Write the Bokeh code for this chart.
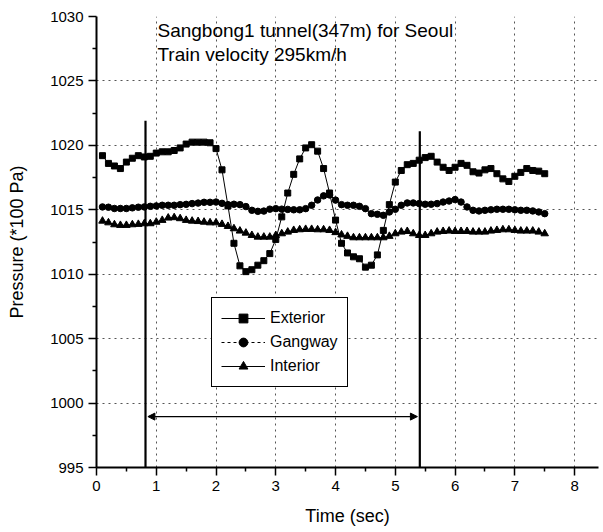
from bokeh.plotting import figure
from bokeh.models import (Range1d, FixedTicker, Legend, LegendItem, ColumnDataSource,
                          Arrow, NormalHead, Grid)
from bokeh.core.properties import value
from bokeh.embed import file_html
from bokeh.resources import INLINE

# ---------------- data ----------------
time_s = [0.1, 0.2, 0.3, 0.4, 0.5, 0.6, 0.7, 0.8, 0.9, 1.0,
          1.1, 1.2, 1.3, 1.4, 1.5, 1.6, 1.7, 1.8, 1.9, 2.0,
          2.1, 2.2, 2.3, 2.4, 2.5, 2.6, 2.7, 2.8, 2.9, 3.0,
          3.1, 3.2, 3.3, 3.4, 3.5, 3.6, 3.7, 3.8, 3.9, 4.0,
          4.1, 4.2, 4.3, 4.4, 4.5, 4.6, 4.7, 4.8, 4.9, 5.0,
          5.1, 5.2, 5.3, 5.4, 5.5, 5.6, 5.7, 5.8, 5.9, 6.0,
          6.1, 6.2, 6.3, 6.4, 6.5, 6.6, 6.7, 6.8, 6.9, 7.0,
          7.1, 7.2, 7.3, 7.4, 7.5]

exterior = [1019.2, 1018.6, 1018.4, 1018.2, 1018.7, 1019.0, 1019.2, 1019.1, 1019.15, 1019.4,
            1019.5, 1019.5, 1019.6, 1019.8, 1020.1, 1020.25, 1020.25, 1020.25, 1020.2, 1019.75,
            1018.1, 1015.3, 1012.4, 1010.65, 1010.2, 1010.35, 1010.7, 1011.05, 1011.6, 1012.7,
            1014.45, 1016.3, 1017.75, 1018.95, 1019.8, 1020.05, 1019.55, 1018.2, 1016.3, 1014.2,
            1012.4, 1011.65, 1011.35, 1011.2, 1010.55, 1010.7, 1011.5, 1013.4, 1015.4, 1017.15,
            1018.05, 1018.5, 1018.6, 1018.85, 1019.05, 1019.15, 1018.7, 1018.3, 1018.05, 1018.3,
            1018.6, 1018.45, 1017.95, 1017.85, 1018.1, 1018.2, 1017.8, 1017.4, 1017.2, 1017.6,
            1017.9, 1018.2, 1018.05, 1018.0, 1017.8]

gangway = [1015.22, 1015.2, 1015.1, 1015.1, 1015.1, 1015.15, 1015.2, 1015.22, 1015.27, 1015.3,
           1015.35, 1015.35, 1015.35, 1015.4, 1015.42, 1015.48, 1015.52, 1015.58, 1015.58, 1015.6,
           1015.5, 1015.4, 1015.43, 1015.4, 1015.25, 1014.96, 1014.88, 1014.9, 1015.05, 1015.09,
           1015.05, 1015.03, 1015.0, 1015.0, 1015.09, 1015.35, 1015.76, 1016.08, 1016.15, 1015.75,
           1015.4, 1015.35, 1015.35, 1015.27, 1015.09, 1014.7, 1014.65, 1014.57, 1014.83, 1015.04,
           1015.35, 1015.53, 1015.53, 1015.48, 1015.43, 1015.43, 1015.48, 1015.6, 1015.68, 1015.79,
           1015.6, 1015.22, 1014.96, 1014.91, 1014.96, 1015.0, 1015.04, 1015.04, 1015.04, 1015.0,
           1014.96, 1014.96, 1014.91, 1014.83, 1014.7]

interior = [1014.13, 1014.0, 1013.85, 1013.8, 1013.8, 1013.85, 1013.88, 1013.93, 1013.93, 1014.05,
            1014.19, 1014.37, 1014.4, 1014.32, 1014.19, 1014.13, 1014.1, 1014.05, 1014.0, 1014.0,
            1013.88, 1013.72, 1013.54, 1013.36, 1013.2, 1013.02, 1012.89, 1012.89, 1012.89, 1013.02,
            1013.15, 1013.28, 1013.41, 1013.46, 1013.49, 1013.49, 1013.46, 1013.46, 1013.41, 1013.24,
            1013.06, 1012.95, 1012.84, 1012.84, 1012.84, 1012.84, 1012.84, 1012.84, 1012.95, 1013.15,
            1013.28, 1013.33, 1013.15, 1013.02, 1013.02, 1013.15, 1013.28, 1013.33, 1013.36, 1013.33,
            1013.33, 1013.33, 1013.28, 1013.28, 1013.28, 1013.36, 1013.41, 1013.46, 1013.46, 1013.41,
            1013.36, 1013.36, 1013.36, 1013.28, 1013.15]

series_names = ["Exterior", "Gangway", "Interior"]
x_ticks = [0, 1, 2, 3, 4, 5, 6, 7, 8]
y_ticks = [995, 1000, 1005, 1010, 1015, 1020, 1025, 1030]

# tunnel entry / exit markers and the span arrow
marker_times = [0.82, 5.41]
marker_tops = [1021.9, 1021.1]
span_arrow = [0.86, 5.37, 998.95]

notes = ["Sangbong1 tunnel(347m) for Seoul", "Train velocity 295km/h"]
notes_x = [1.02, 1.02]
notes_y = [1029.75, 1027.85]

FONT = "Liberation Sans"

# ---------------- figure ----------------
p = figure(width=603, height=532, output_backend="svg", toolbar_location=None,
           x_range=Range1d(0, 8.4), y_range=Range1d(995, 1030))
p.min_border_left = 96
p.min_border_right = 5
p.min_border_top = 16
p.min_border_bottom = 65
p.outline_line_color = None
p.background_fill_color = "white"
p.border_fill_color = "white"

# remove default grids, add explicit dotted grids
p.xgrid.visible = False
p.ygrid.visible = False
xg = Grid(dimension=0, ticker=FixedTicker(ticks=x_ticks[1:]), level="underlay",
          grid_line_color="#555555", grid_line_dash="dotted", grid_line_width=1)
yg = Grid(dimension=1, ticker=FixedTicker(ticks=y_ticks[1:-1]), level="underlay",
          grid_line_color="#555555", grid_line_dash="dotted", grid_line_width=1)
p.add_layout(xg)
p.add_layout(yg)

# axes
p.xaxis.ticker = FixedTicker(ticks=x_ticks, minor_ticks=[v + 0.5 for v in x_ticks])
p.yaxis.ticker = FixedTicker(ticks=y_ticks, minor_ticks=[v + 2.5 for v in y_ticks[:-1]])
for ax in (p.xaxis, p.yaxis):
    ax.axis_line_color = "black"
    ax.axis_line_width = 2
    ax.major_tick_line_color = "black"
    ax.major_tick_line_width = 1.5
    ax.minor_tick_line_color = "black"
    ax.minor_tick_line_width = 1.5
    ax.major_tick_out = 8
    ax.major_tick_in = 0
    ax.minor_tick_out = 4
    ax.minor_tick_in = 0
    ax.major_label_text_font = FONT
    ax.major_label_text_font_size = "15px"
    ax.major_label_text_color = "black"
    ax.axis_label_text_font = FONT
    ax.axis_label_text_font_size = "18px"
    ax.axis_label_text_font_style = "normal"
    ax.axis_label_text_color = "black"
    ax.major_label_standoff = 5

p.xaxis.axis_label = "Time (sec)"
p.yaxis.axis_label = "Pressure (*100 Pa)"
p.xaxis.axis_label_standoff = 12
p.yaxis.axis_label_standoff = 20

# series
src = ColumnDataSource(dict(t=time_s, ext=exterior, gan=gangway, intr=interior))
p.line("t", "ext", source=src, color="black", line_width=1)
p.scatter("t", "ext", source=src, marker="square", size=6, color="black")
p.line("t", "gan", source=src, color="black", line_width=1)
p.scatter("t", "gan", source=src, marker="circle", size=6.5, color="black")
p.line("t", "intr", source=src, color="black", line_width=1)
p.scatter("t", "intr", source=src, marker="triangle", size=7.5, color="black")

# vertical markers
p.segment(x0=marker_times, y0=[995, 995], x1=marker_times, y1=marker_tops,
          line_color="black", line_width=2.2)

# double arrow
p.add_layout(Arrow(start=NormalHead(size=7, fill_color="black", line_color="black"),
                   end=NormalHead(size=7, fill_color="black", line_color="black"),
                   x_start=span_arrow[0], x_end=span_arrow[1],
                   y_start=span_arrow[2], y_end=span_arrow[2],
                   line_color="black", line_width=1.2))

# annotations
p.text(x=notes_x, y=notes_y, text=notes, text_font=value(FONT), text_font_size="19px",
       text_baseline="top", text_align="left", text_color="black")

# legend (off-screen single-point renderers carry the legend glyph styles)
dummy = ColumnDataSource(dict(x=[-50.0], y=[500.0]))
l1 = p.line("x", "y", source=dummy, color="black", line_width=1)
s1 = p.scatter("x", "y", source=dummy, marker="square", size=6, color="black")
l2 = p.line("x", "y", source=dummy, color="black", line_width=1, line_dash="3 3")
s2 = p.scatter("x", "y", source=dummy, marker="circle", size=6.5, color="black")
l3 = p.line("x", "y", source=dummy, color="black", line_width=1)
s3 = p.scatter("x", "y", source=dummy, marker="triangle", size=7.5, color="black")

legend = Legend(items=[LegendItem(label=series_names[0], renderers=[l1, s1]),
                       LegendItem(label=series_names[1], renderers=[l2, s2]),
                       LegendItem(label=series_names[2], renderers=[l3, s3])],
                location=(115, 80))
legend.label_text_font = FONT
legend.label_text_font_size = "16px"
legend.label_text_color = "black"
legend.label_height = 22
legend.glyph_height = 22
legend.glyph_width = 44
legend.label_standoff = 5
legend.spacing = 2
legend.padding = 9
legend.margin = 0
legend.border_line_color = "black"
legend.border_line_alpha = 1
legend.border_line_width = 1.5
legend.background_fill_color = "white"
legend.background_fill_alpha = 1
p.add_layout(legend, "center")

with open("out.html", "w") as f:
    f.write(file_html(p, INLINE))
